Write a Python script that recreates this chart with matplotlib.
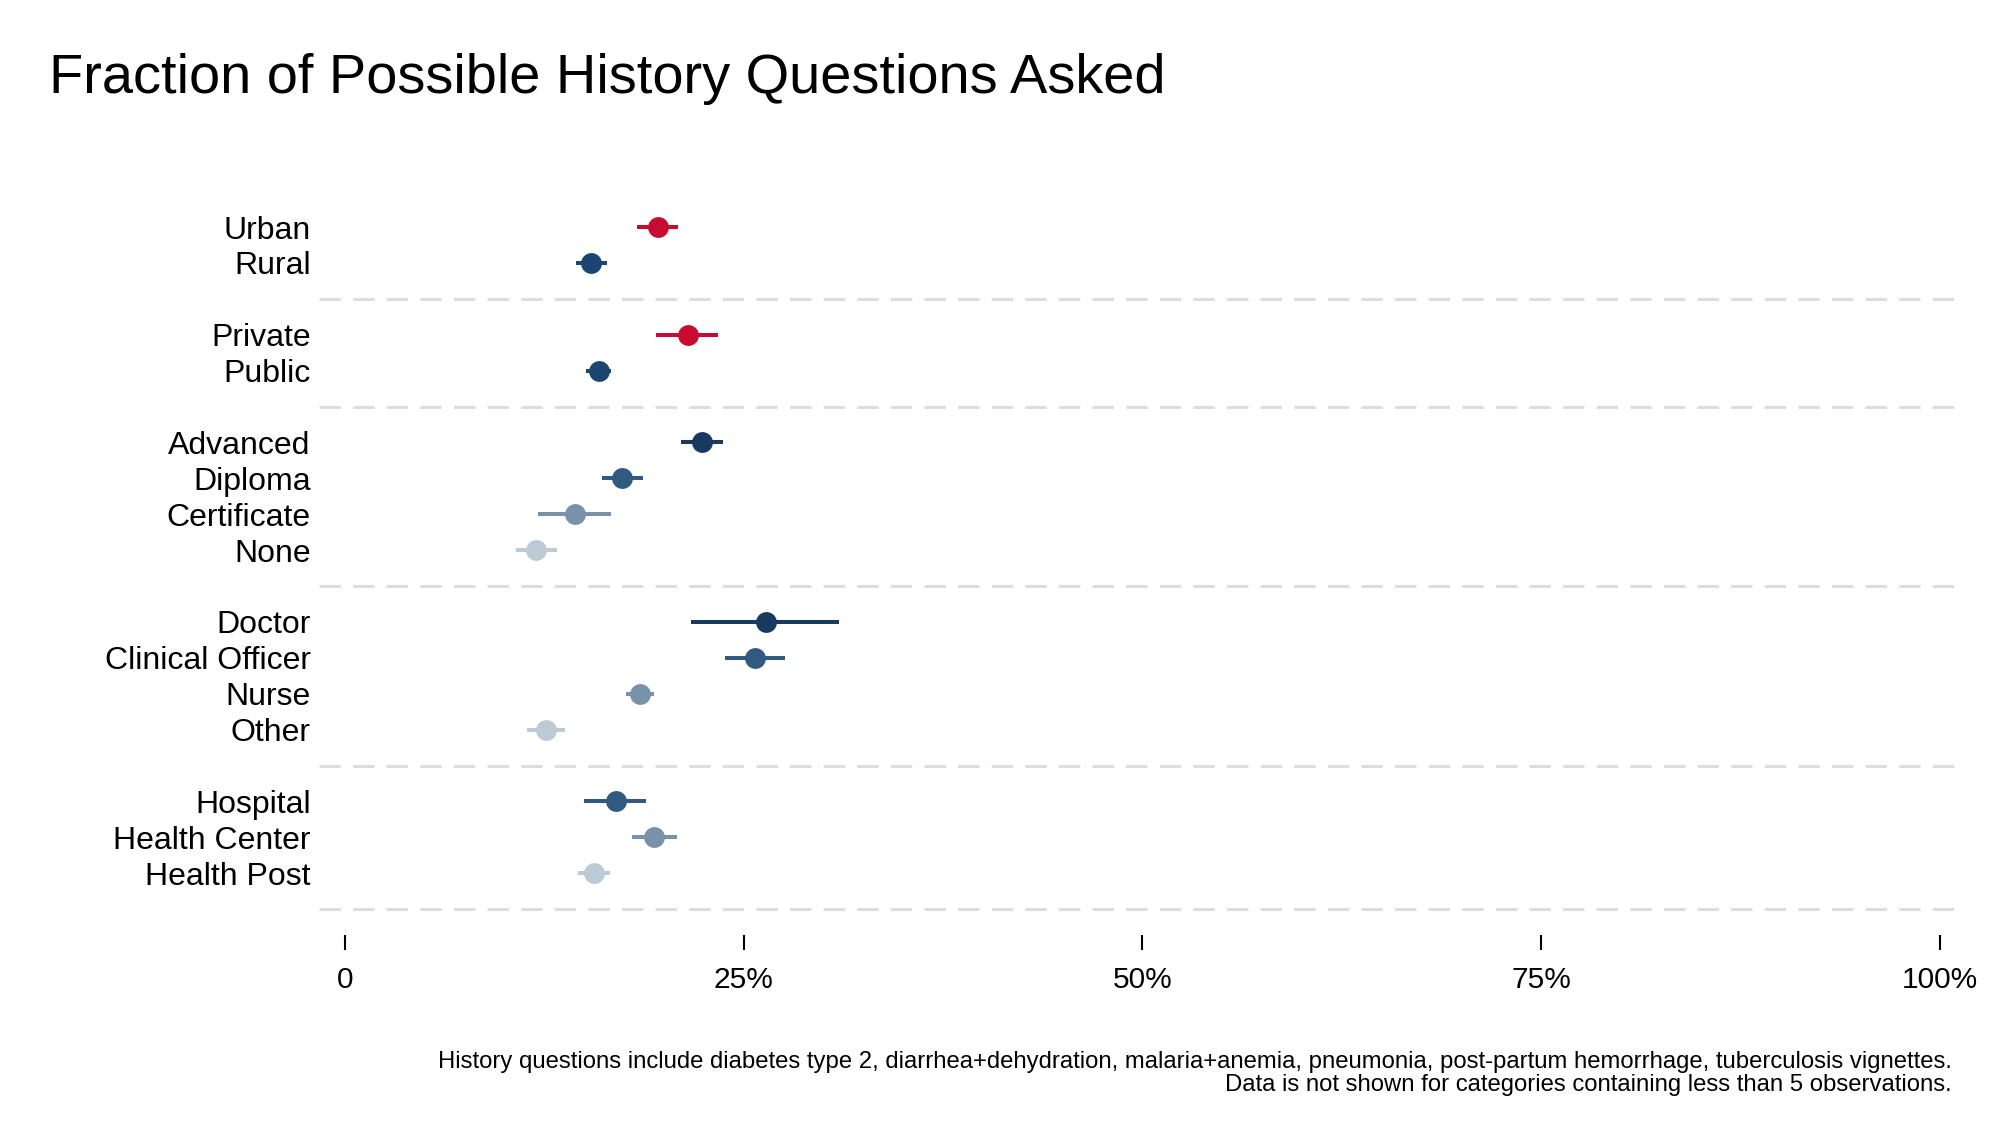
import matplotlib.pyplot as plt

plt.rcParams['font.family'] = ['Liberation Sans', 'DejaVu Sans']

# ==================== data ====================
group_sizes = [2, 2, 4, 4, 3]
labels = ["Urban", "Rural",
          "Private", "Public",
          "Advanced", "Diploma", "Certificate", "None",
          "Doctor", "Clinical Officer", "Nurse", "Other",
          "Hospital", "Health Center", "Health Post"]
means   = [19.6, 15.4, 21.5, 15.9, 22.4, 17.4, 14.4, 12.0, 26.4, 25.7, 18.5, 12.6, 17.0, 19.4, 15.6]
ci_low  = [18.3, 14.5, 19.5, 15.1, 21.1, 16.1, 12.1, 10.7, 21.7, 23.8, 17.6, 11.4, 15.0, 18.0, 14.6]
ci_high = [20.9, 16.4, 23.4, 16.7, 23.7, 18.7, 16.7, 13.3, 31.0, 27.6, 19.4, 13.8, 18.9, 20.8, 16.6]
x_ticks = [0, 25, 50, 75, 100]
x_tick_labels = ["0", "25%", "50%", "75%", "100%"]

TITLE = "Fraction of Possible History Questions Asked"
NOTE_1 = ("History questions include diabetes type 2, diarrhea+dehydration, malaria+anemia, "
          "pneumonia, post-partum hemorrhage, tuberculosis vignettes.")
NOTE_2 = "Data is not shown for categories containing less than 5 observations."

# ==================== style ====================
RED = "#c60c30"
colors = [RED, "#1b4671",
          RED, "#1b4671",
          "#173a5e", "#305a80", "#7a91aa", "#bccad6",
          "#173a5e", "#305a80", "#7a91aa", "#bccad6",
          "#305a80", "#7a91aa", "#bccad6"]
SEP_COLOR = "#dddddd"

# row positions: one empty slot (dashed line) after every group
rows, seps = [], []
r = 0
for n in group_sizes:
    for _ in range(n):
        rows.append(r)
        r += 1
    seps.append(r)
    r += 1

fig = plt.figure(figsize=(20, 11.43), dpi=100)
ax = fig.add_axes([0.1595, 0.182, 0.8195, 0.6445])

for y in seps:
    ax.axhline(y, color=SEP_COLOR, lw=2.2, linestyle=(0, (7, 4)), dash_capstyle='butt', zorder=1)

for y, m, lo, hi, c in zip(rows, means, ci_low, ci_high, colors):
    ax.hlines(y, lo, hi, color=c, lw=2.9, zorder=2)
    ax.plot([m], [y], 'o', color=c, markersize=15, markeredgewidth=0, zorder=3)

ax.set_xlim(-1.63, 101.15)
ax.set_ylim(19.72, -0.8)

ax.set_xticks(x_ticks)
ax.set_xticklabels(x_tick_labels, fontsize=21.5)
ax.set_yticks(rows)
ax.set_yticklabels(labels, fontsize=23)
ax.tick_params(axis='x', length=11, width=1.5, pad=11, direction='out')
ax.tick_params(axis='y', length=0, pad=6)
for s in ax.spines.values():
    s.set_visible(False)

fig.text(0.0245, 0.9186, TITLE, fontsize=40.3, ha='left', va='baseline')
fig.text(0.976, 1 - 1068 / 1143, NOTE_1, fontsize=17.2, ha='right', va='baseline')
fig.text(0.976, 1 - 1091 / 1143, NOTE_2, fontsize=17.2, ha='right', va='baseline')

fig.savefig("out.png", dpi=100, facecolor='white')
